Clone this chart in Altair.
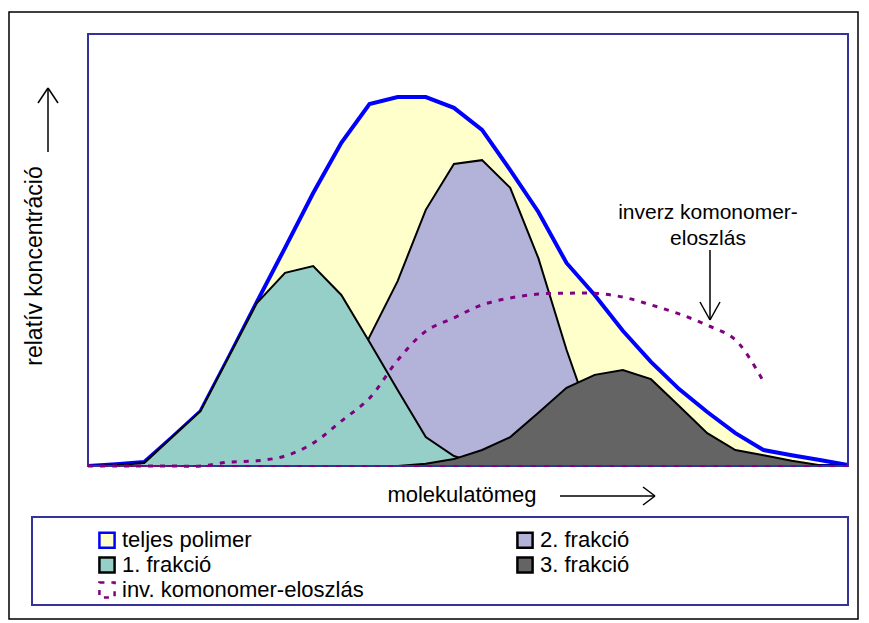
import altair as alt
import pandas as pd

FONT = "Liberation Sans, Arial, Helvetica, sans-serif"

# category positions along the molecular-weight axis
kategoriak = list(range(28))

teljes_polimer = [0, 0.4, 0.9, 6.7, 12.7, 25.2, 38.0, 50.5, 63.2, 74.8, 83.8, 85.4, 85.4, 82.9,
                  77.8, 68.5, 58.8, 47.0, 39.6, 31.3, 24.1, 17.8, 12.5, 7.6, 3.7, 2.5, 1.4, 0.2]
frakcio_1 = [0, 0.2, 0.7, 6.7, 12.7, 25.2, 37.7, 44.7, 46.3, 39.6, 28.7, 17.6, 6.7, 2.3,
             0.2, 0, 0, 0, 0, 0, 0, 0, 0, 0, 0, 0, 0, 0]
frakcio_2 = [0, 0, 0, 0, 0, 0, 0, 0, 0.7, 15.3, 29.9, 42.8, 59.3, 69.9,
             70.8, 64.4, 48.1, 26.9, 8.3, 0.9, 0, 0, 0, 0, 0, 0, 0, 0]
frakcio_3 = [0, 0, 0, 0, 0, 0, 0, 0, 0, 0, 0, 0, 0.5, 1.6,
             3.7, 6.7, 12.3, 18.1, 21.1, 22.2, 20.1, 13.9, 7.6, 3.7, 2.5, 1.2, 0.2, 0]
inv_komonomer = [0, 0, 0, 0, 0, 0.9, 1.2, 2.3, 5.3, 10.4, 15.7, 24.5, 31.2, 34.3,
                 37.3, 38.9, 39.8, 40.0, 40.0, 39.1, 37.3, 35.2, 32.6, 29.2, 19.5, None, None, None]

# legend order (column-major: first column, then second column)
nevek = ["teljes polimer", "1. frakció", "inv. komonomer-eloszlás", "2. frakció", "3. frakció"]
kitoltes = ["#ffffcc", "#96cfc8", "transparent", "#b3b3da", "#646464"]
vonal = ["#0000ff", "#000000", "#800080", "#000000", "#000000"]
szaggatas = [[1, 0], [1, 0], [5, 7], [1, 0], [1, 0]]

sorok = []
for nev, ertekek in [("teljes polimer", teljes_polimer), ("1. frakció", frakcio_1),
                     ("2. frakció", frakcio_2), ("3. frakció", frakcio_3),
                     ("inv. komonomer-eloszlás", inv_komonomer)]:
    for k, v in zip(kategoriak, ertekek):
        if v is not None:
            sorok.append({"k": k, "ertek": v, "sorozat": nev})
df = pd.DataFrame(sorok)

legend = alt.Legend(title=None, orient="none", legendX=8, legendY=495, columns=2,
                    columnPadding=148, rowPadding=-1, symbolType="square", symbolSize=230,
                    symbolStrokeWidth=2.5, labelFontSize=22, labelFont=FONT, labelColor="black",
                    labelOffset=4, labelLimit=400, padding=0)

xenc = alt.X("k:Q", scale=alt.Scale(domain=[0, 27], nice=False, zero=False), axis=None)
yenc = alt.Y("ertek:Q", stack=None, scale=alt.Scale(domain=[0, 100], nice=False), axis=None)
fill = alt.Fill("sorozat:N", scale=alt.Scale(domain=nevek, range=kitoltes), legend=legend)
stroke = alt.Stroke("sorozat:N", scale=alt.Scale(domain=nevek, range=vonal), legend=legend)
dash = alt.StrokeDash("sorozat:N", scale=alt.Scale(domain=nevek, range=szaggatas), legend=legend)

one = pd.DataFrame({"a": [0]})


def box(x, x2, y, y2, fillc, strokec, sw):
    return alt.Chart(one).mark_rect(fill=fillc, stroke=strokec, strokeWidth=sw).encode(
        x=alt.value(x), x2=alt.value(x2), y=alt.value(y), y2=alt.value(y2))


def seg(x, y, x2, y2, sw=1.5):
    return alt.Chart(one).mark_rule(color="black", strokeWidth=sw).encode(
        x=alt.value(x), y=alt.value(y), x2=alt.value(x2), y2=alt.value(y2))


def label(txt, x, y, size=21, angle=0):
    return alt.Chart(one).mark_text(font=FONT, fontSize=size, color="black", align="center",
                                    baseline="middle", angle=angle).encode(
        x=alt.value(x), y=alt.value(y), text=alt.value(txt))


def area(nev, sw):
    return alt.Chart(df).transform_filter(alt.datum.sorozat == nev).mark_area(
        strokeWidth=sw, opacity=1, clip=True, interpolate="linear").encode(
        x=xenc, y=yenc, fill=fill, stroke=stroke, strokeDash=dash)


outer = box(-79, 770, -22, 585, "transparent", "black", 1.5)
legend_box = box(-56, 760, 483, 571, "white", "#333399", 2)
frame = box(0, 760, 0, 432, "transparent", "#333399", 2)

base_rule = alt.Chart(one).mark_rule(color="#800080", strokeDash=[5, 8], strokeWidth=2).encode(
    y=alt.YDatum(0, axis=None))

inv_line = alt.Chart(df).transform_filter(alt.datum.sorozat == "inv. komonomer-eloszlás").mark_line(
    strokeWidth=3, interpolate="catmull-rom").encode(x=xenc, y=yenc, stroke=stroke, strokeDash=dash)

decor = [
    # axis titles
    label("relatív koncentráció", -53, 232, 23, 270),
    label("molekulatömeg", 374, 461, 22),
    # y-axis arrow
    seg(-40, 118, -40, 54), seg(-50, 69, -40, 54), seg(-30, 69, -40, 54),
    # x-axis arrow
    seg(472, 462, 567, 462), seg(555, 453, 567, 462), seg(555, 471, 567, 462),
    # annotation arrow
    seg(622, 216, 622, 286), seg(612, 268, 622, 286), seg(632, 268, 622, 286),
    label("inverz komonomer-", 620, 179), label("eloszlás", 620, 205),
]

chart = alt.layer(
    outer, legend_box,
    area("teljes polimer", 4), area("2. frakció", 2), area("1. frakció", 2), area("3. frakció", 2),
    frame, base_rule, inv_line, *decor
).properties(
    width=760, height=432,
    autosize=alt.AutoSizeParams(type="none"),
    padding={"left": 80, "top": 26, "right": 13, "bottom": 155},
).configure_view(strokeWidth=0).configure(background="white")

chart.save("out.html", embed_options={"renderer": "svg", "actions": False})
